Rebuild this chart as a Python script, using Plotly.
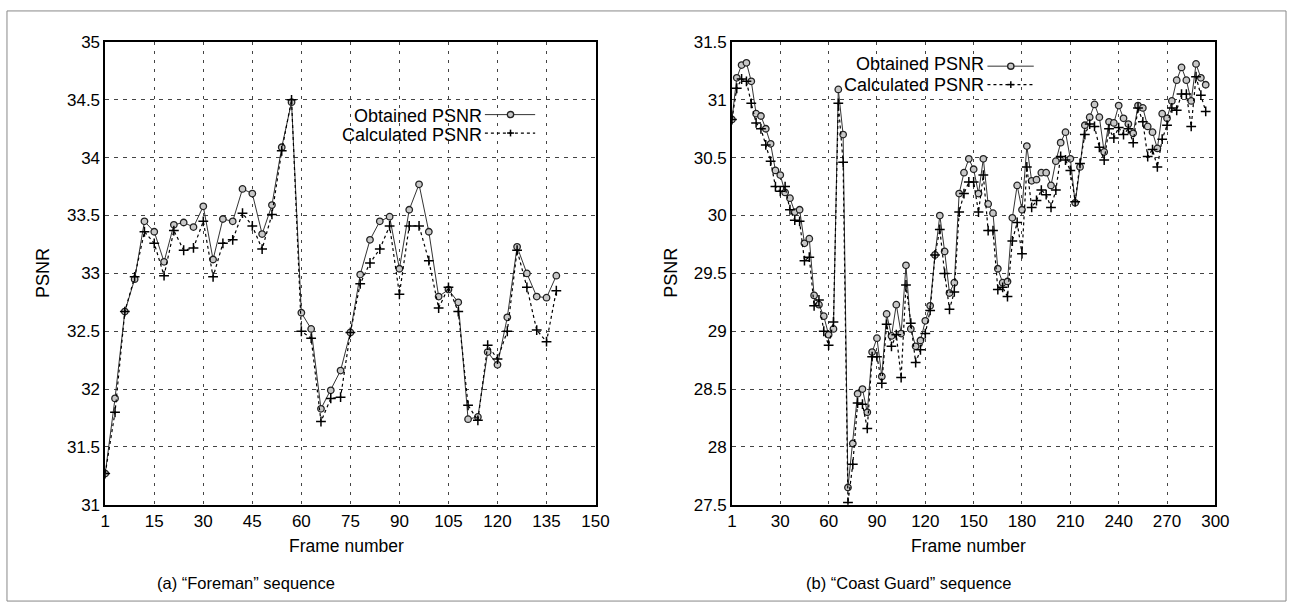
import plotly.graph_objects as go

# ---------------- data ----------------
fore_frames = list(range(0, 139, 3))
fore_obtained = [31.27, 31.92, 32.67, 32.95, 33.45, 33.36, 33.10, 33.42, 33.44, 33.40,
                 33.58, 33.12, 33.47, 33.45, 33.73, 33.69, 33.34, 33.59, 34.09, 34.48,
                 32.66, 32.52, 31.83, 31.99, 32.16, 32.49, 32.99, 33.29, 33.45, 33.49,
                 33.04, 33.55, 33.77, 33.36, 32.80, 32.86, 32.75, 31.74, 31.76, 32.32,
                 32.21, 32.62, 33.23, 33.00, 32.80, 32.79, 32.98]
fore_calculated = [31.27, 31.80, 32.67, 32.97, 33.36, 33.26, 32.98, 33.37, 33.20, 33.22,
                   33.45, 32.97, 33.26, 33.29, 33.52, 33.41, 33.21, 33.51, 34.06, 34.50,
                   32.50, 32.44, 31.72, 31.92, 31.93, 32.49, 32.91, 33.09, 33.21, 33.41,
                   32.82, 33.41, 33.41, 33.11, 32.70, 32.88, 32.67, 31.86, 31.73, 32.38,
                   32.26, 32.50, 33.20, 32.88, 32.51, 32.41, 32.85]

coast_frames = list(range(0, 295, 3))
coast_obtained = [30.83, 31.19, 31.30, 31.32, 31.16, 30.88, 30.86, 30.75, 30.62, 30.39,
                  30.35, 30.20, 30.15, 30.03, 30.05, 29.76, 29.80, 29.31, 29.23, 29.13,
                  28.97, 29.02, 31.09, 30.70, 27.65, 28.03, 28.46, 28.50, 28.30, 28.82,
                  28.94, 28.61, 29.15, 28.96, 29.23, 28.98, 29.57, 29.02, 28.87, 28.92,
                  29.09, 29.22, 29.66, 30.00, 29.69, 29.33, 29.42, 30.19, 30.37, 30.49,
                  30.40, 30.19, 30.49, 30.10, 30.02, 29.54, 29.42, 29.43, 29.98, 30.26,
                  30.05, 30.60, 30.30, 30.31, 30.37, 30.37, 30.26, 30.47, 30.63, 30.72,
                  30.49, 30.11, 30.42, 30.78, 30.85, 30.96, 30.85, 30.55, 30.81, 30.80,
                  30.95, 30.84, 30.79, 30.71, 30.95, 30.93, 30.77, 30.72, 30.58, 30.88,
                  30.84, 30.99, 31.17, 31.28, 31.17, 30.99, 31.31, 31.19, 31.13]
coast_calculated = [30.83, 31.10, 31.18, 31.16, 30.97, 30.80, 30.75, 30.61, 30.47, 30.25,
                    30.21, 30.25, 30.05, 29.96, 29.95, 29.61, 29.64, 29.22, 29.27, 29.00,
                    28.88, 29.08, 30.97, 30.46, 27.52, 27.85, 28.38, 28.37, 28.16, 28.78,
                    28.78, 28.55, 29.06, 28.87, 28.97, 28.60, 29.40, 29.07, 28.73, 28.84,
                    28.98, 29.18, 29.66, 29.88, 29.50, 29.19, 29.34, 30.03, 30.19, 30.29,
                    30.29, 30.03, 30.35, 29.87, 29.87, 29.36, 29.38, 29.30, 29.78, 29.94,
                    29.67, 30.42, 30.07, 30.13, 30.22, 30.18, 30.07, 30.22, 30.51, 30.48,
                    30.39, 30.12, 30.45, 30.70, 30.79, 30.77, 30.59, 30.48, 30.75, 30.67,
                    30.76, 30.70, 30.75, 30.63, 30.93, 30.81, 30.51, 30.57, 30.42, 30.66,
                    30.78, 30.93, 30.91, 31.05, 31.05, 30.77, 31.20, 31.04, 30.90]

fore_xticks = [0, 15, 30, 45, 60, 75, 90, 105, 120, 135, 150]
fore_xlabels = ["1", "15", "30", "45", "60", "75", "90", "105", "120", "135", "150"]
fore_yticks = [31, 31.5, 32, 32.5, 33, 33.5, 34, 34.5, 35]
fore_ylabels = ["31", "31.5", "32", "32.5", "33", "33.5", "34", "34.5", "35"]

coast_xticks = [0, 30, 60, 90, 120, 150, 180, 210, 240, 270, 300]
coast_xlabels = ["1", "30", "60", "90", "120", "150", "180", "210", "240", "270", "300"]
coast_yticks = [27.5, 28, 28.5, 29, 29.5, 30, 30.5, 31, 31.5]
coast_ylabels = ["27.5", "28", "28.5", "29", "29.5", "30", "30.5", "31", "31.5"]

series_names = ["Obtained PSNR", "Calculated PSNR"]
captions = ["(a) \u201cForeman\u201d sequence", "(b) \u201cCoast Guard\u201d sequence"]

# ---------------- layout helpers ----------------
W, H = 1302, 613
FONT = "Liberation Sans, Arial, Helvetica, sans-serif"


def px(x):
    return x / W


def py(y):
    return 1 - y / H


obt_style = dict(mode="lines+markers",
                 line=dict(color="#333333", width=1),
                 marker=dict(symbol="circle", size=6.5, color="#c8c8c8",
                             line=dict(color="#222222", width=1.3)))
calc_style = dict(mode="lines+markers",
                  line=dict(color="#000000", width=1.2, dash="dot"),
                  marker=dict(symbol="cross-thin", size=7,
                              line=dict(color="#000000", width=1.5)))

fig = go.Figure()
fig.add_trace(go.Scatter(x=fore_frames, y=fore_obtained, name=series_names[0],
                         xaxis="x", yaxis="y", showlegend=False, **obt_style))
fig.add_trace(go.Scatter(x=fore_frames, y=fore_calculated, name=series_names[1],
                         xaxis="x", yaxis="y", showlegend=False, **calc_style))
fig.add_trace(go.Scatter(x=coast_frames, y=coast_obtained, name=series_names[0],
                         xaxis="x2", yaxis="y2", showlegend=False, **obt_style))
fig.add_trace(go.Scatter(x=coast_frames, y=coast_calculated, name=series_names[1],
                         xaxis="x2", yaxis="y2", showlegend=False, **calc_style))

ydom = [py(511.7), py(34)]
axis_common = dict(showline=True, mirror=True, linecolor="black", linewidth=1.5,
                   showgrid=True, gridcolor="#444444", gridwidth=1,
                   zeroline=False, ticks="", tickfont=dict(family=FONT, size=17, color="black"))

fig.update_layout(
    width=W, height=H,
    margin=dict(l=0, r=0, t=0, b=0),
    paper_bgcolor="white", plot_bgcolor="white",
    font=dict(family=FONT, size=17, color="black"),
    xaxis=dict(domain=[px(101.7), px(599.3)], range=[0, 150], tickvals=fore_xticks,
               ticktext=fore_xlabels, anchor="y", griddash="3px,6px", **axis_common),
    yaxis=dict(domain=ydom, range=[31, 35], tickvals=fore_yticks,
               ticktext=fore_ylabels, anchor="x", griddash="4px,5px", **axis_common),
    xaxis2=dict(domain=[px(737.7), px(1228.3)], range=[0, 300], tickvals=coast_xticks,
                ticktext=coast_xlabels, anchor="y2", griddash="3px,6px", **axis_common),
    yaxis2=dict(domain=ydom, range=[27.5, 31.5], tickvals=coast_yticks,
                ticktext=coast_ylabels, anchor="x2", griddash="4px,5px", **axis_common),
)

annotations = []
shapes = []

# axis titles and captions
for cx, yx, cap_x, name_cap in [(347, 38, 245, captions[0]), (978, 675, 917, captions[1])]:
    annotations.append(dict(text="Frame number", x=px(cx), y=py(554), xref="paper", yref="paper",
                            showarrow=False, xanchor="center", yanchor="middle",
                            font=dict(family=FONT, size=17.5)))
    annotations.append(dict(text="PSNR", x=px(yx), y=py(272), xref="paper", yref="paper",
                            showarrow=False, xanchor="center", yanchor="middle", textangle=-90,
                            font=dict(family=FONT, size=18)))
    annotations.append(dict(text=name_cap, x=px(cap_x), y=py(592), xref="paper", yref="paper",
                            showarrow=False, xanchor="center", yanchor="middle",
                            font=dict(family=FONT, size=16.5)))

# legends (text right-aligned, sample on the right)
legend_specs = [
    dict(text_right=486, x0=487, x1=538, xm=513, rows=[(109, 110.5), (128, 130.5)]),
    dict(text_right=996, x0=997, x1=1044, xm=1020.7, rows=[(59, 57), (78, 78.5)]),
]
for spec in legend_specs:
    for i, (ly, ty) in enumerate(spec["rows"]):
        annotations.append(dict(text=series_names[i], x=px(spec["text_right"]), y=py(ty),
                                xref="paper", yref="paper", showarrow=False,
                                xanchor="right", yanchor="middle",
                                font=dict(family=FONT, size=18)))
        if i == 0:
            shapes.append(dict(type="line", xref="paper", yref="paper",
                               x0=px(spec["x0"]), x1=px(spec["x1"]), y0=py(ly), y1=py(ly),
                               line=dict(color="#333333", width=1)))
            shapes.append(dict(type="circle", xref="paper", yref="paper",
                               x0=px(spec["xm"] - 3.2), x1=px(spec["xm"] + 3.2),
                               y0=py(ly + 3.2), y1=py(ly - 3.2),
                               fillcolor="#c8c8c8", line=dict(color="#222222", width=1.3)))
        else:
            shapes.append(dict(type="line", xref="paper", yref="paper",
                               x0=px(spec["x0"]), x1=px(spec["x1"]), y0=py(ly), y1=py(ly),
                               line=dict(color="#000000", width=1.2, dash="dot")))
            shapes.append(dict(type="line", xref="paper", yref="paper",
                               x0=px(spec["xm"] - 3.5), x1=px(spec["xm"] + 3.5),
                               y0=py(ly), y1=py(ly), line=dict(color="black", width=1.5)))
            shapes.append(dict(type="line", xref="paper", yref="paper",
                               x0=px(spec["xm"]), x1=px(spec["xm"]),
                               y0=py(ly - 3.5), y1=py(ly + 3.5), line=dict(color="black", width=1.5)))

# outer frame of the figure
shapes.append(dict(type="rect", xref="paper", yref="paper", x0=px(2), x1=px(1300),
                   y0=py(611), y1=py(2), line=dict(color="#888888", width=1), layer="below"))

fig.update_layout(annotations=annotations, shapes=shapes)

fig.write_html("out.html", config={"displayModeBar": False},
               post_script="document.body.style.margin='0';")
